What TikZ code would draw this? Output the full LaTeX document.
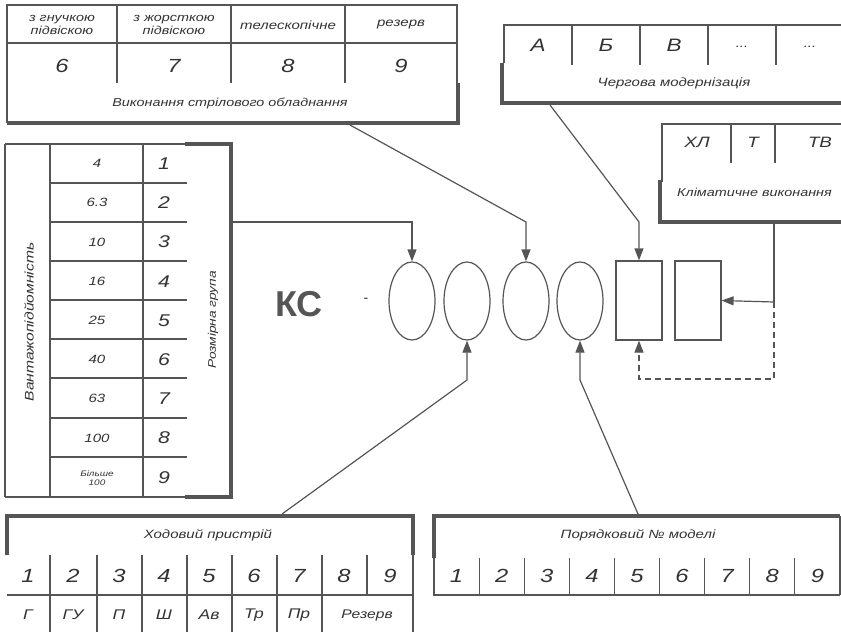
\documentclass[tikz,border=0pt]{standalone}
\usepackage{fontspec}
\setmainfont{Liberation Sans}
\newfontfamily\wf[FakeStretch=1.25]{Liberation Sans}
\usetikzlibrary{shapes.geometric,arrows.meta}
\definecolor{lc}{HTML}{555555}
\definecolor{tc}{HTML}{333333}
\tikzset{
  thinln/.style={draw=lc, line width=1.2pt},
  thickln/.style={draw=lc, line width=4.5pt, line join=miter},
  txt/.style={text=tc, inner sep=0pt, font=\wf\itshape\fontsize{#1}{#1}\selectfont},
  txt/.default=11,
  txtl/.style={text=tc, inner sep=0pt, align=center, font=\wf\itshape\fontsize{#1}{13}\selectfont},
  arr/.style={thinln, -{Triangle[length=12pt,width=9pt]}},
  elem/.style={draw=lc, line width=1.2pt, ellipse, minimum width=46pt, minimum height=78pt, inner sep=0pt},
  rbox/.style={draw=lc, line width=1.2pt, rectangle, minimum width=46pt, minimum height=79pt, inner sep=0pt},
}
\begin{document}
\begin{tikzpicture}[x=1pt,y=-1pt]
\clip (0,0) rectangle (841,632);
\fill[white] (0,0) rectangle (841,632);

% ---------- top-left block: boom equipment ----------
\draw[thinln] (7,123) -- (7,5) -- (457,5) -- (457,85);
\draw[thinln] (7,43) -- (457,43);
\foreach \x in {117,231,345} \draw[thinln] (\x,5) -- (\x,83);
\draw[thickln] (458,83) -- (458,123) -- (7,123);
\node[txtl=11.5] (b1) at (62,25) {з гнучкою\\підвіскою};
\node[txtl=11.5] (b2) at (174,25) {з жорсткою\\підвіскою};
\node[txt=12] (b3) at (288,25) {телескопічне};
\node[txt=12] (b4) at (401,25) {резерв};
\node[txt=19] (n6) at (62,66) {6};
\node[txt=19] (n7) at (174,66) {7};
\node[txt=19] (n8) at (288,66) {8};
\node[txt=19] (n9) at (401,66) {9};
\node[txt=11.5] (capB) at (230,103) {Виконання стрілового обладнання};
\coordinate (bOut) at (350,125);

% ---------- top-right block: modernisation ----------
\draw[thinln] (504,63) -- (504,25) -- (850,25);
\foreach \x in {572,640,708,776} \draw[thinln] (\x,25) -- (\x,65);
\draw[thickln] (502,63) -- (502,103) -- (850,103);
\node[txt=18] (mA) at (538,45) {А};
\node[txt=18] (mB) at (606,45) {Б};
\node[txt=18] (mV) at (674,45) {В};
\node[txt=12] (mD1) at (742,47) {...};
\node[txt=12] (mD2) at (810,47) {...};
\node[txt=12] (capM) at (674,83) {Чергова модернізація};
\coordinate (mOut) at (550,105);

% ---------- climatic block ----------
\draw[thinln] (662,182) -- (662,124) -- (850,124);
\foreach \x in {731,775} \draw[thinln] (\x,124) -- (\x,163);
\draw[thickln] (660,180) -- (660,222) -- (850,222);
\node[txt=15] (cXL) at (697,142) {ХЛ};
\node[txt=15] (cT) at (753,142) {Т};
\node[txt=15] (cTV) at (820,142) {ТВ};
\node[txt=11.5, anchor=west] (capC) at (677,192) {Кліматичне виконання};
\coordinate (cOut) at (774,224);
\coordinate (cMid) at (774,302);

% ---------- left table: load capacity ----------
\draw[thinln] (5,144) -- (185,144);
\draw[thinln] (5,497) -- (185,497);
\draw[thinln] (5,144) -- (5,497);
\draw[thinln] (50,144) -- (50,497);
\draw[thinln] (143,144) -- (143,497);
\foreach \y in {183,222,261,300,339,378,418,457} \draw[thinln] (50,\y) -- (187,\y);
\draw[thickln] (185,144) -- (231,144) -- (231,497) -- (185,497);
\foreach \v/\n [count=\i] in {4/1,6.3/2,10/3,16/4,25/5,40/6,63/7,100/8} {
  \node[txt=12] (v\i) at (97,{144+39.2*(\i-0.5)}) {\v};
  \node[txt=17] (g\i) at (164,{144+39.2*(\i-0.5)}) {\n};
}
\node[txtl=8] (v9) at (97,478) {Більше\\[-4pt]100};
\node[txt=17] (g9) at (164,478) {9};
\node[txt=12.5, rotate=90] (capV) at (29,322) {Вантажопідйомність};
\node[txt=11, rotate=90] (capR) at (213,320) {Розмірна група};
\coordinate (lOut) at (233,222);

% ---------- bottom-left block: running gear ----------
\draw[thickln] (7,555) -- (7,516) -- (413,516) -- (413,555);
\draw[thinln] (413,553) -- (413,640);
\draw[thinln] (7,595) -- (413,595);
\foreach \x in {50,97,142,187,232,277,322} \draw[thinln] (\x,555) -- (\x,640);
\draw[thinln] (367,555) -- (367,595);
\node[txt=12] (capH) at (208,535) {Ходовий пристрій};
\foreach \n/\x in {1/28,2/73,3/119,4/164,5/209,6/254,7/299,8/344,9/390}
  \node[txt=19] (h\n) at (\x,576) {\n};
\node[txt=14] (hG) at (28,615) {Г};
\node[txt=14] (hGU) at (73,615) {ГУ};
\node[txt=14] (hP) at (119,615) {П};
\node[txt=14] (hSh) at (164,615) {Ш};
\node[txt=14] (hAv) at (209,615) {Ав};
\node[txt=14] (hTr) at (254,615) {Тр};
\node[txt=14] (hPr) at (299,615) {Пр};
\node[txt=12.5] (hRez) at (367,615) {Резерв};
\coordinate (hOut) at (282,514);

% ---------- bottom-right block: model number ----------
\draw[thickln] (434,558) -- (434,516) -- (840,516);
\draw[thinln] (840,516) -- (840,595);
\draw[thinln] (434,556) -- (434,595) -- (840,595);
\foreach \k in {1,...,8} \draw[thinln] ({434+45.1*\k},558) -- ({434+45.1*\k},595);
\node[txt=12] (capP) at (638,535) {Порядковий № моделі};
\foreach \k in {1,...,9}
  \node[txt=19] (p\k) at ({434+45.1*(\k-0.5)},576) {\k};
\coordinate (pOut) at (638,514);

% ---------- central code ----------
\node[text=lc, inner sep=0pt, font=\fontsize{36}{36}\selectfont\bfseries] (KS) at (299,304) {КС};
\node[text=tc, inner sep=0pt, font=\fontsize{14}{14}\selectfont] (dash) at (366,300) {-};
\node[elem] (e1) at (412,301) {};
\node[elem] (e2) at (467,301) {};
\node[elem] (e3) at (526,301) {};
\node[elem] (e4) at (580,301) {};
\node[rbox] (r1) at (639,300.5) {};
\node[rbox] (r2) at (698,300.5) {};

% ---------- connectors ----------
\draw[arr] (lOut) -| (e1.north);
\draw[arr] (bOut) -- (e3.north |- 0,222) -- (e3.north);
\draw[arr] (mOut) -- (r1.north |- 0,222) -- (r1.north);
\draw[thinln] (cOut) -- (cMid);
\draw[arr] (cMid) -- (r2.east);
\draw[arr, dash pattern=on 6pt off 4pt] (cMid) -- (774,379) -| (r1.south);
\draw[arr] (hOut) -- (e2.south |- 0,380) -- (e2.south);
\draw[arr] (pOut) -- (e4.south |- 0,380) -- (e4.south);
\end{tikzpicture}
\end{document}
